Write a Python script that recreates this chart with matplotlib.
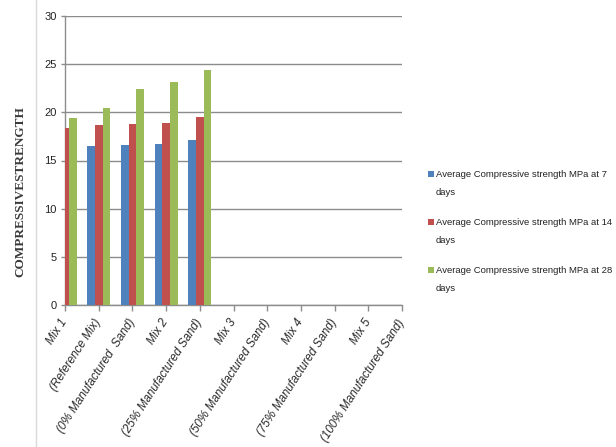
import textwrap
import numpy as np
import matplotlib
matplotlib.use("Agg")
import matplotlib.pyplot as plt
from matplotlib.lines import Line2D
from matplotlib.patches import Rectangle

# Mix categories along the x axis
categories = [
    "Mix 1",
    "(Reference Mix)",
    "(0% Manufactured  Sand)",
    "Mix 2",
    "(25% Manufactured Sand)",
    "Mix 3",
    "(50% Manufactured Sand)",
    "Mix 4",
    "(75% Manufactured Sand)",
    "Mix 5",
    "(100% Manufactured Sand)",
]

series_names = [
    "Average Compressive strength MPa at 7 days",
    "Average Compressive strength MPa at 14 days",
    "Average Compressive strength MPa at 28 days",
]

# Compressive strength (MPa) for the first five categories
strength_7d = [16.4, 16.5, 16.6, 16.7, 17.1]
strength_14d = [18.4, 18.7, 18.8, 18.9, 19.5]
strength_28d = [19.4, 20.5, 22.4, 23.1, 24.4]

y_ticks = [0, 5, 10, 15, 20, 25, 30]
y_label = "COMPRESSIVESTRENGTH"

colors = ["#4F81BD", "#C0504D", "#9BBB59"]
sans = ["Liberation Sans", "DejaVu Sans"]
serif = ["Liberation Serif", "DejaVu Serif"]

W, H = 616, 447
fig = plt.figure(figsize=(W / 100, H / 100), dpi=100)
fig.patch.set_facecolor("white")

def fx(px):
    return px / W

def fy(py):
    return 1 - py / H

ax = fig.add_axes([fx(65), fy(305), fx(402) - fx(65), fy(16) - fy(305)])

bar_w = 0.228
series = [strength_7d, strength_14d, strength_28d]
for i, (vals, col) in enumerate(zip(series, colors)):
    x = np.arange(len(vals)) + (i - 1) * bar_w
    ax.bar(x, vals, width=bar_w, color=col, edgecolor="none", zorder=3)

ax.set_xlim(0, len(categories) - 1)
ax.set_ylim(0, 30)
ax.set_yticks(y_ticks)
ax.set_yticklabels([str(v) for v in y_ticks], family=sans, fontsize=8, color="#222222")
ax.yaxis.grid(True, color="#8c8c8c", linewidth=1.0, zorder=0)
ax.set_axisbelow(True)

ax.set_xticks(np.arange(len(categories)))
ax.set_xticklabels(categories, rotation=57, ha="right", va="center",
                   rotation_mode="anchor", family=sans, style="italic",
                   fontsize=8.5, color="#2a2a2a")
ax.tick_params(axis="x", length=4, width=1, color="#8c8c8c", pad=7)
ax.tick_params(axis="y", length=3, width=1, color="#8c8c8c", pad=3)

for side in ("top", "right"):
    ax.spines[side].set_visible(False)
for side in ("left", "bottom"):
    ax.spines[side].set_color("#8c8c8c")
    ax.spines[side].set_linewidth(1.0)

# y-axis title
fig.text(fx(20), fy(192), y_label, rotation=90, ha="center", va="center",
         family=serif, fontsize=9.5, fontweight="bold", color="#3a3a3a")

# faint chart-area edge on the left
fig.add_artist(Line2D([fx(36), fx(36)], [0, 1], color="#d9d9d9", linewidth=1.0))

# legend: square key aligned with the first text line
for i, (name, col) in enumerate(zip(series_names, colors)):
    yc = 174 + 48 * i
    fig.add_artist(Rectangle((fx(428), fy(yc + 3)), fx(6), 6 / H,
                             facecolor=col, edgecolor="none"))
    fig.text(fx(436), fy(yc - 4), textwrap.fill(name, 38), ha="left", va="top",
             family=sans, fontsize=6.8, linespacing=2.3, color="#222222")

fig.savefig("out.png", dpi=100, facecolor="white")
